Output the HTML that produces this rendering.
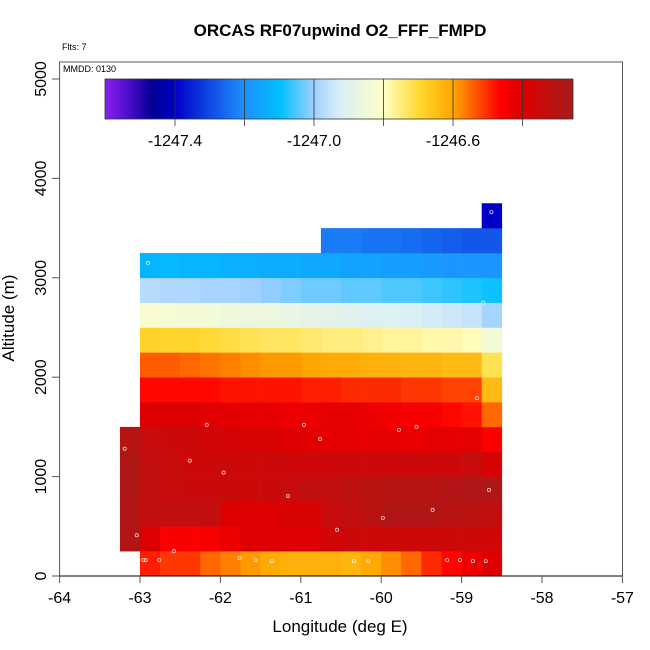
<!DOCTYPE html>
<html><head><meta charset="utf-8"><style>
html,body{margin:0;padding:0;background:#fff}
svg{display:block;font-family:"Liberation Sans",sans-serif}
</style></head><body>
<svg id="chart" width="650" height="650" viewBox="0 0 650 650">
<defs>
<linearGradient id="cbar" x1="0" x2="1" y1="0" y2="0">
<stop offset="0" stop-color="#8a20f0"/><stop offset="0.07" stop-color="#3008b8"/><stop offset="0.1" stop-color="#000090"/>
<stop offset="0.15" stop-color="#0000c8"/><stop offset="0.297" stop-color="#1e90ff"/><stop offset="0.374" stop-color="#00bfff"/>
<stop offset="0.447" stop-color="#a0d0ff"/><stop offset="0.5" stop-color="#d8eef8"/><stop offset="0.594" stop-color="#ffffc8"/>
<stop offset="0.673" stop-color="#ffd830"/><stop offset="0.744" stop-color="#ffa500"/><stop offset="0.844" stop-color="#ff0000"/>
<stop offset="0.891" stop-color="#dd0000"/><stop offset="1" stop-color="#a51c1c"/>
</linearGradient>
</defs>
<text x="340" y="36" text-anchor="middle" font-size="17" font-weight="bold">ORCAS RF07upwind O2_FFF_FMPD</text>
<text x="62" y="50" font-size="9">Flts: 7</text>
<rect x="59.6" y="62" width="562.9" height="514" fill="none" stroke="#555" stroke-width="1"/>
<g id="cells"></g>
<g id="pts"></g>
<text x="63" y="72" font-size="9">MMDD: 0130</text>
<g id="cb">
<rect x="105" y="79" width="468" height="40" fill="url(#cbar)" stroke="#333" stroke-width="0.8"/>
</g>
<g id="axes"></g>
<text x="340" y="632" text-anchor="middle" font-size="17">Longitude (deg E)</text>
<text transform="translate(14,318) rotate(-90)" text-anchor="middle" font-size="17">Altitude (m)</text>
</svg>
<script>
const xTicks=[-64,-63,-62,-61,-60,-59,-58,-57];
const yTicks=[0,1000,2000,3000,4000,5000];
const cbTicks=[-1247.4,-1247.0,-1246.6];
const cbLines=[-1247.4,-1247.2,-1247.0,-1246.8,-1246.6,-1246.4];
const lonStart=-63.0, lonStep=0.25, altStep=250;
const row0=[-1246.49,-1246.51,-1246.51,-1246.55,-1246.57,-1246.59,-1246.61,-1246.62,-1246.62,-1246.62,-1246.63,-1246.61,-1246.58,-1246.55,-1246.50,-1246.47,-1246.43,-1246.40];
const row1=[-1246.40,-1246.46,-1246.46,-1246.45,-1246.43,-1246.40,-1246.40,-1246.40,-1246.40,-1246.37,-1246.36,-1246.36,-1246.36,-1246.36,-1246.36,-1246.36,-1246.36,-1246.37];
const row2=[-1246.33,-1246.33,-1246.33,-1246.33,-1246.40,-1246.40,-1246.40,-1246.39,-1246.39,-1246.34,-1246.33,-1246.31,-1246.29,-1246.29,-1246.29,-1246.30,-1246.31,-1246.33];
const row3=[-1246.33,-1246.34,-1246.35,-1246.35,-1246.35,-1246.36,-1246.35,-1246.34,-1246.33,-1246.33,-1246.32,-1246.31,-1246.30,-1246.30,-1246.30,-1246.29,-1246.28,-1246.28];
const row4=[-1246.33,-1246.34,-1246.36,-1246.36,-1246.36,-1246.36,-1246.36,-1246.36,-1246.36,-1246.36,-1246.36,-1246.36,-1246.36,-1246.36,-1246.36,-1246.36,-1246.34,-1246.38];
const row5=[-1246.34,-1246.35,-1246.36,-1246.37,-1246.38,-1246.39,-1246.39,-1246.40,-1246.41,-1246.42,-1246.42,-1246.42,-1246.42,-1246.43,-1246.42,-1246.42,-1246.42,-1246.46];
const row6=[-1246.40,-1246.40,-1246.40,-1246.41,-1246.41,-1246.42,-1246.42,-1246.43,-1246.43,-1246.42,-1246.42,-1246.43,-1246.44,-1246.45,-1246.45,-1246.47,-1246.48,-1246.55];
const row7=[-1246.47,-1246.47,-1246.47,-1246.47,-1246.48,-1246.48,-1246.48,-1246.48,-1246.49,-1246.49,-1246.50,-1246.50,-1246.50,-1246.51,-1246.51,-1246.52,-1246.52,-1246.64];
const row8=[-1246.54,-1246.54,-1246.55,-1246.56,-1246.57,-1246.58,-1246.59,-1246.59,-1246.60,-1246.61,-1246.61,-1246.62,-1246.62,-1246.63,-1246.63,-1246.64,-1246.64,-1246.72];
const row9=[-1246.68,-1246.69,-1246.69,-1246.70,-1246.71,-1246.72,-1246.73,-1246.73,-1246.74,-1246.75,-1246.75,-1246.76,-1246.77,-1246.77,-1246.78,-1246.78,-1246.79,-1246.84];
const row10=[-1246.82,-1246.83,-1246.84,-1246.84,-1246.85,-1246.86,-1246.86,-1246.87,-1246.88,-1246.89,-1246.90,-1246.91,-1246.91,-1246.92,-1246.93,-1246.94,-1246.95,-1246.99];
const row11=[-1246.97,-1246.98,-1246.98,-1246.99,-1246.99,-1247.00,-1247.01,-1247.02,-1247.03,-1247.03,-1247.04,-1247.04,-1247.05,-1247.05,-1247.06,-1247.07,-1247.08,-1247.09];
const row12=[-1247.12,-1247.11,-1247.12,-1247.12,-1247.13,-1247.13,-1247.14,-1247.14,-1247.15,-1247.15,-1247.16,-1247.16,-1247.17,-1247.17,-1247.18,-1247.19,-1247.19,-1247.19];
const row13=[null,null,null,null,null,null,null,null,null,-1247.23,-1247.23,-1247.24,-1247.24,-1247.25,-1247.26,-1247.27,-1247.28,-1247.28];
const row14=[null,null,null,null,null,null,null,null,null,null,null,null,null,null,null,null,null,-1247.40];
const rows=[row0,row1,row2,row3,row4,row5,row6,row7,row8,row9,row10,row11,row12,row13,row14];
const extraVals=[-1246.29,-1246.29,-1246.28,-1246.28,-1246.30];
const ptLon=[-63.03,-62.9,-58.63,-58.73,-58.81,-62.17,-60.96,-60.76,-59.78,-59.56,-63.19,-62.38,-61.96,-61.16,-58.66,-60.55,-59.98,-59.36,-63.04,-62.58,-62.96,-62.93,-62.76,-61.76,-61.56,-61.36,-60.34,-60.16,-59.18,-59.02,-58.86,-58.7];
const ptAlt=[2213,3150,3660,2750,1790,1520,1520,1380,1470,1500,1280,1160,1040,805,865,465,585,665,410,250,160,160,160,180,160,150,150,150,160,160,150,150];

const X=l=>59.6+(l+64)*80.4;
const Y=a=>576-a*0.0994;
const CBX=v=>175+(v+1247.4)/0.4*139;
const stops=[[105,[138,32,240]],[138,[48,8,184]],[152,[0,0,144]],[175,[0,0,200]],[244,[30,144,255]],[280,[0,191,255]],[314,[160,208,255]],[340,[216,238,248]],[383,[255,255,200]],[420,[255,216,48]],[453,[255,165,0]],[500,[255,0,0]],[522,[221,0,0]],[573,[165,28,28]]];
function col(v){let x=Math.max(105,Math.min(573,CBX(v)));
 for(let i=0;i<stops.length-1;i++){const a=stops[i],b=stops[i+1];if(x<=b[0]){const t=(x-a[0])/(b[0]-a[0]);
 return 'rgb('+a[1].map((c,k)=>Math.round(c+(b[1][k]-c)*t)).join(',')+')';}}
 return 'rgb(165,28,28)';}
const NS='http://www.w3.org/2000/svg';
function mk(tag,at,parent){const e=document.createElementNS(NS,tag);for(const k in at)e.setAttribute(k,at[k]);parent.appendChild(e);return e;}
const cells=document.getElementById('cells');
rows.forEach((r,ri)=>r.forEach((v,ci)=>{if(v===null)return;
 const l=lonStart+ci*lonStep,a=ri*altStep;
 const e=mk('rect',{x:X(l),y:Y(a+altStep),width:X(l+lonStep)-X(l)+0.3,height:Y(a)-Y(a+altStep)+0.3,fill:col(v)},cells);
 
 }));
extraVals.forEach((v,i)=>{const a=(i+1)*altStep,l=lonStart-lonStep;
 const e=mk('rect',{x:X(l),y:Y(a+altStep),width:X(lonStart)-X(l)+0.3,height:Y(a)-Y(a+altStep)+0.3,fill:col(v)},cells);
 
 });
const pts=document.getElementById('pts');
ptLon.forEach((l,i)=>{const e=mk('circle',{cx:X(l),cy:Y(ptAlt[i]),r:1.6,fill:'none',stroke:'#fff','stroke-opacity':0.8,'stroke-width':0.8},pts);
 
 });
const ax=document.getElementById('axes');
mk('line',{x1:59.6,x2:622.5,y1:576,y2:576,stroke:'#000','stroke-width':1},ax);
xTicks.forEach(t=>{mk('line',{x1:X(t),x2:X(t),y1:576,y2:583,stroke:'#555'},ax);
 const e=mk('text',{x:X(t),y:603,'text-anchor':'middle','font-size':16},ax);e.textContent=t;
 
 });
yTicks.forEach(t=>{mk('line',{x1:52,x2:59.6,y1:Y(t),y2:Y(t),stroke:'#555'},ax);
 const e=mk('text',{transform:'translate(46,'+Y(t)+') rotate(-90)','text-anchor':'middle','font-size':16},ax);e.textContent=t;
 
 });
const cb=document.getElementById('cb');
cbLines.forEach(t=>{mk('line',{x1:CBX(t),x2:CBX(t),y1:79,y2:126,stroke:'#333','stroke-width':0.8},cb);});
cbTicks.forEach(t=>{const e=mk('text',{x:CBX(t),y:146,'text-anchor':'middle','font-size':16},cb);e.textContent=t.toFixed(1);
 
 });
</script>
</body></html>
